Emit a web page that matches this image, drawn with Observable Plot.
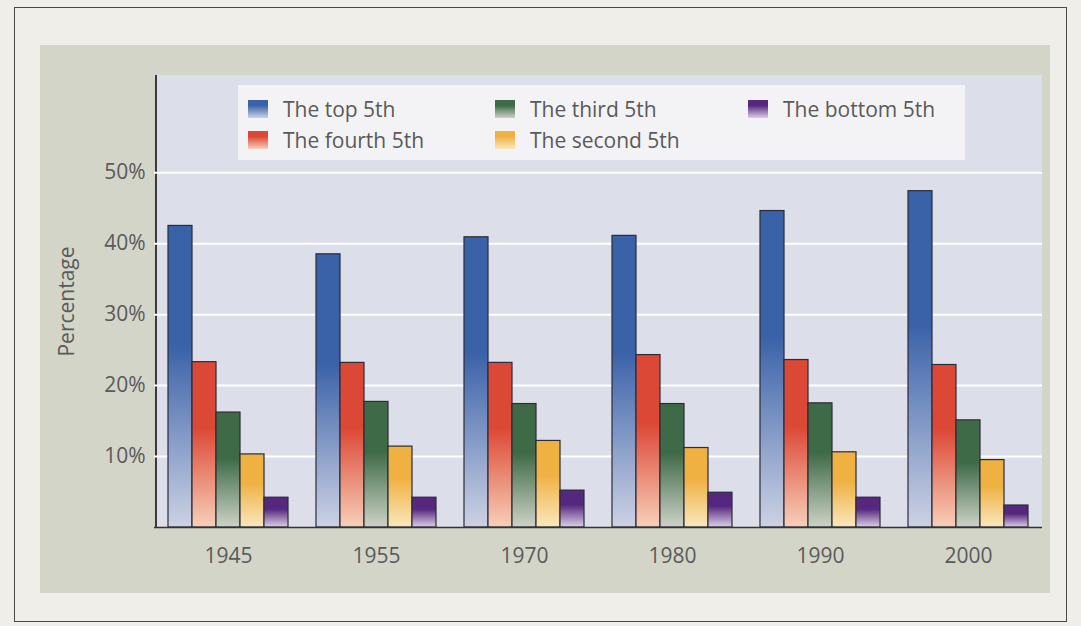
<!DOCTYPE html>
<html>
<head>
<meta charset="utf-8">
<script src="https://cdn.jsdelivr.net/npm/d3@7"></script>
<script src="https://cdn.jsdelivr.net/npm/@observablehq/plot@0.6"></script>
<style>
  html, body { margin: 0; padding: 0; }
  body {
    width: 1081px; height: 626px; position: relative; overflow: hidden;
    background: #efeee9; font-family: "Open Sans", sans-serif;
  }
  #page-border {
    position: absolute; left: 14px; top: 7px; width: 1053px; height: 615px;
    border: 1.5px solid #4a4a4a; box-sizing: border-box;
  }
  #panel {
    position: absolute; left: 40px; top: 45px; width: 1010px; height: 548px;
    background: #d4d5c9;
  }
  #plot-bg {
    position: absolute; left: 155px; top: 75px; width: 887px; height: 452px;
    background: #dcdee9; border-left: 2px solid #3a3a3a; box-sizing: border-box;
  }
  #chart { position: absolute; left: 0; top: 0; }
  #legend {
    position: absolute; left: 238px; top: 85px; width: 727px; height: 75px;
    background: #f3f3f5; box-sizing: border-box; padding: 8px 0 0 10px;
    display: grid; grid-template-columns: 247px 253px auto;
    grid-template-rows: 31px 31px; grid-auto-flow: column;
    font-size: 21px; color: #5a5a5a;
  }
  .item { display: flex; align-items: center; white-space: nowrap; }
  .swatch { width: 20px; height: 18px; margin-right: 15px; flex: none; }
</style>
</head>
<body>
<div id="page-border"></div>
<div id="panel"></div>
<div id="plot-bg"></div>
<svg id="shades" width="0" height="0" style="position:absolute"><defs></defs></svg>
<div id="chart"></div>
<div id="legend"></div>
<script>
// Share of aggregate income received by each fifth of households
const years = ["1945", "1955", "1970", "1980", "1990", "2000"];
const groups = ["The top 5th", "The fourth 5th", "The third 5th", "The second 5th", "The bottom 5th"];
const topShare    = [42.5, 38.5, 40.9, 41.1, 44.6, 47.4];
const fourthShare = [23.3, 23.2, 23.2, 24.3, 23.6, 22.9];
const thirdShare  = [16.2, 17.7, 17.4, 17.4, 17.5, 15.1];
const secondShare = [10.3, 11.4, 12.2, 11.2, 10.6, 9.5];
const bottomShare = [4.2, 4.2, 5.2, 4.9, 4.2, 3.1];
const yTicks = [10, 20, 30, 40, 50];

// Each bar fades from a deep shade at the top to a pale shade at the base
const darkShades  = ["#3a62a9", "#dc4836", "#3e6a47", "#f0b143", "#56277e"];
const lightShades = ["#cdd2e4", "#f7cfb8", "#cdd2c6", "#f8e8bd", "#dbd0e8"];

const shares = [topShare, fourthShare, thirdShare, secondShare, bottomShare];
const table = years.flatMap((year, i) =>
  groups.map((group, j) => ({year, group, value: shares[j][i]}))
);

// Gradient definitions shared by the bars
const defs = d3.select("#shades defs");
groups.forEach((g, i) => {
  const grad = defs.append("linearGradient")
    .attr("id", `shade-${i}`)
    .attr("x1", 0).attr("y1", 0).attr("x2", 0).attr("y2", 1);
  grad.append("stop").attr("offset", 0).attr("stop-color", darkShades[i]);
  grad.append("stop").attr("offset", 0.4).attr("stop-color", darkShades[i]);
  grad.append("stop").attr("offset", 1).attr("stop-color", lightShades[i]);
});

const chart = Plot.plot({
  width: 1081,
  height: 626,
  marginLeft: 154,
  marginRight: 39,
  marginTop: 75,
  marginBottom: 99,
  style: {background: "transparent", fontFamily: "Open Sans, sans-serif", fontSize: "21px", color: "#5a5a5a"},
  fx: {domain: years, padding: 0, label: null, axis: "bottom", tickSize: 0, tickPadding: 21},
  x: {domain: groups, paddingInner: 0, paddingOuter: 0.53, axis: null},
  y: {domain: [0, 63.7], axis: null},
  color: {domain: groups, range: groups.map((g, i) => `url(#shade-${i})`)},
  marks: [
    Plot.gridY(yTicks, {stroke: "#ffffff", strokeOpacity: 1, strokeWidth: 2}),
    Plot.axisY(yTicks, {
      tickSize: 0, tickPadding: 9, tickFormat: d => d + "%",
      label: "Percentage", labelAnchor: "center", labelArrow: "none", labelOffset: 95
    }),
    Plot.barY(table, {fx: "year", x: "group", y: "value", fill: "group", stroke: "#2c2c38", strokeWidth: 1.2}),
    Plot.ruleY([0], {stroke: "#333333", strokeWidth: 1.5})
  ]
});
document.getElementById("chart").append(chart);

// Legend
const legend = d3.select("#legend");
groups.forEach((g, i) => {
  const item = legend.append("div").attr("class", "item");
  item.append("div").attr("class", "swatch")
    .style("background", `linear-gradient(${darkShades[i]} 30%, ${lightShades[i]})`);
  item.append("span").text(g);
});
</script>
</body>
</html>
